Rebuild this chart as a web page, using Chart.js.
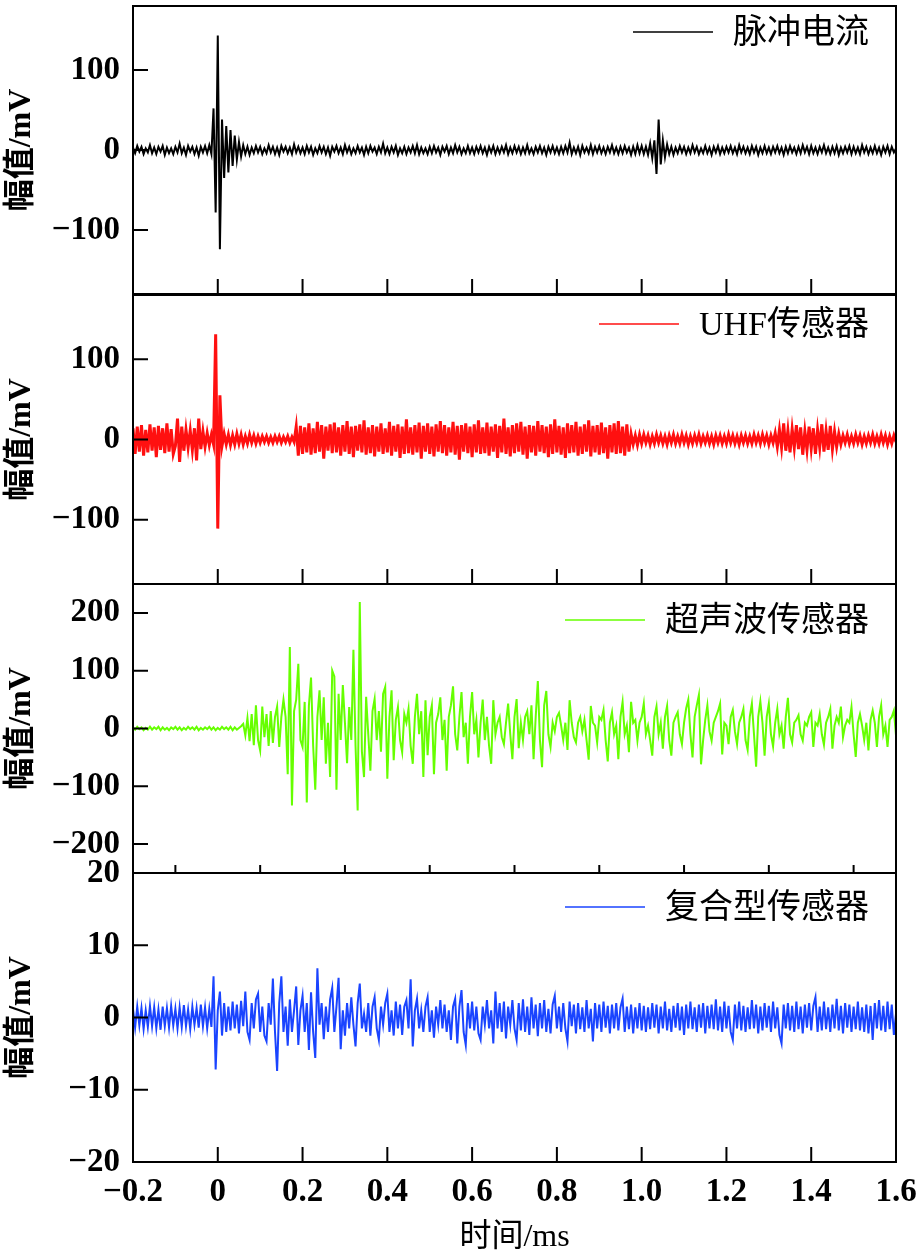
<!DOCTYPE html>
<html><head><meta charset="utf-8">
<script src="https://cdn.jsdelivr.net/npm/chart.js@4.4.1/dist/chart.umd.min.js"></script>
<style>
html,body{margin:0;padding:0;background:#fff;width:919px;height:1254px;overflow:hidden;position:relative}
canvas{position:absolute;left:0;top:-60px}
</style></head><body>
<canvas id="c1" width="919" height="1314"></canvas>
<canvas id="c2" width="919" height="1314"></canvas>
<canvas id="c3" width="919" height="1314"></canvas>
<canvas id="c4" width="919" height="1314"></canvas>
<script>
// ---- data ----
const timeStartMs = -0.2;
const timeStepMs = 0.005;
const xTickValues = [-0.2, 0, 0.2, 0.4, 0.6, 0.8, 1.0, 1.2, 1.4, 1.6];
const xTickLabels = ['\u22120.2', '0', '0.2', '0.4', '0.6', '0.8', '1.0', '1.2', '1.4', '1.6'];
const xMinorTickValues = [-0.1, 0.1, 0.3, 0.5, 0.7, 0.9, 1.1, 1.3, 1.5];
const seriesNames = ['脉冲电流', 'UHF传感器', '超声波传感器', '复合型传感器'];
const yTicksPulse = [-100, 0, 100];
const yTicksUhf = [-100, 0, 100];
const yTicksUltra = [-200, -100, 0, 100, 200];
const yTicksComposite = [-20, -10, 0, 10, 20];

const pulseCurrent = [
3,-4,5,-2,4,-5,2,-3,6,-4,3,-5,4,-2,5,-6,3,-4,2,-5,
4,-3,8,-4,3,-6,5,-2,4,-5,3,-7,4,-3,5,-4,6,-5,52,-78,
143,-124,38,-35,30,-28,25,-20,18,-12,10,-8,6,-5,4,-6,3,-4,5,-3,
4,-5,2,-4,6,-3,4,-5,3,-6,5,-2,4,-4,3,-5,7,-3,4,-4,
3,-5,5,-3,4,-6,2,-4,5,-3,4,-5,3,-7,4,-2,5,-4,3,-5,
6,-3,4,-5,2,-4,5,-3,3,-6,4,-4,5,-2,3,-5,4,-3,8,-4,
3,-5,4,-3,5,-6,2,-4,4,-5,3,-3,5,-4,6,-5,3,-4,2,-5,
4,-4,5,-3,3,-6,4,-2,5,-5,3,-4,6,-3,4,-5,2,-4,5,-4,
3,-5,4,-3,5,-4,3,-6,4,-3,5,-5,3,-4,4,-3,6,-5,3,-4,
5,-3,4,-5,3,-4,6,-4,2,-5,4,-3,5,-4,3,-6,4,-3,5,-4,
3,-5,4,-4,5,-3,9,-5,3,-4,4,-6,5,-3,3,-4,6,-5,4,-3,
5,-4,3,-5,4,-3,6,-4,3,-5,4,-4,5,-3,3,-6,4,-5,6,-4,
5,-5,4,-6,8,-10,12,-30,38,-18,12,-9,7,-5,4,-6,3,-4,5,-3,
4,-5,3,-4,6,-3,4,-5,2,-4,5,-4,3,-6,4,-3,5,-5,3,-4,
4,-3,5,-4,3,-5,6,-3,4,-4,3,-5,5,-3,4,-6,3,-4,5,-4,
3,-5,4,-3,5,-4,3,-6,4,-4,5,-3,3,-5,4,-4,6,-3,4,-5,
5,-4,3,-5,4,-3,6,-4,3,-5,4,-4,5,-6,3,-4,4,-3,5,-5,
4,-4,3,-5,6,-3,4,-5,3,-4,5,-4,3,-6,4,-3,5,-5,4,-3,
2];

const uhfSensor = [
14,-18,16,-15,18,-20,12,-16,19,-14,15,-22,17,-13,14,-17,20,-15,13,-18,
-8,26,-28,16,-14,12,-10,11,-13,14,-26,26,-12,10,-9,8,-7,6,-6,131,
-111,55,-8,7,-6,6,-7,5,-6,7,-5,6,-6,4,-5,6,-4,5,-5,4,
-4,4,-3,4,-4,3,-4,4,-3,4,-4,3,-3,4,-4,3,-3,16,-20,17,
-18,15,-16,20,-19,14,-17,22,-15,18,-24,16,-14,19,-17,21,-16,15,-20,18,
-15,23,-18,16,-22,17,-14,19,-16,24,-19,15,-17,18,-21,16,-15,20,-18,14,
-16,22,-20,17,-15,19,-23,16,-18,25,-17,15,-19,18,-16,21,-24,17,-15,20,
-18,16,-21,19,-15,23,-17,18,-20,15,-16,22,-19,17,-25,18,-15,20,-17,16,
-22,19,-16,24,-18,15,-17,21,-20,16,-15,19,-23,17,-16,26,-18,15,-21,18,
-17,20,-15,22,-19,16,-24,18,-16,17,-20,23,-15,18,-17,16,-22,19,-18,25,
-16,17,-19,15,-23,20,-17,18,-16,22,-20,16,-18,19,-15,24,-21,17,-16,18,
-19,21,-17,15,-24,18,-16,20,-18,23,-17,16,-20,19,-15,7,-6,5,-7,6,
-5,6,-4,5,-6,4,-5,6,-4,5,-5,4,-6,5,-4,6,-5,4,-5,6,
-4,5,-6,4,-5,5,-4,6,-5,4,-4,5,-5,4,-6,5,-4,5,-5,4,
-5,6,-4,5,-5,4,-6,5,-4,5,-5,4,-5,6,-4,5,-5,6,-4,5,
-6,5,-4,8,-9,12,-10,20,-14,11,-16,13,-10,18,-12,15,-19,10,-13,16,
-11,14,-18,12,-10,19,-15,11,-13,17,-12,10,-9,7,-6,5,-4,6,-5,4,
-5,6,-4,5,-6,4,-5,5,-4,6,-5,4,-5,6,-4,5,-6,4,-5,5,
-3];

const ultrasonicSensor = [
2,-2,3,-1,2,-3,1,-2,3,-2,2,-1,3,-3,2,-2,1,-3,2,-1,
3,-2,2,-3,1,-2,3,-1,2,-2,3,-3,1,-2,2,-1,3,-2,2,-3,
1,-2,3,-1,2,-2,3,-3,2,-2,1,4,8,-12,18,-22,25,-29,40,-20,
-38,38,-15,25,-30,30,-25,20,38,-32,20,50,20,-79,141,-133,30,50,112,-20,
-32,46,-128,40,88,-30,-106,20,66,-20,54,-61,10,-84,100,90,-106,60,-20,75,
10,-60,37,-20,136,-30,-142,219,-40,-84,55,-10,-73,30,51,-20,30,-40,60,72,
-87,20,66,-55,15,37,-20,-41,25,10,34,-30,-61,20,60,-10,30,-84,49,-46,
20,40,-79,10,25,54,-20,15,-73,20,40,73,-10,-38,20,63,-15,10,-61,20,
63,-10,15,-50,10,50,-20,20,-30,-61,49,-10,10,20,-15,-27,10,43,-10,-53,
20,51,-34,10,-20,20,30,-10,40,-53,20,82,-20,-67,40,65,-10,-32,10,-5,
20,27,5,-20,10,-37,49,10,-15,-24,10,20,-5,15,-20,-54,39,10,5,-24,
20,15,32,-20,-57,10,28,-10,5,-53,20,46,-10,5,-41,46,10,15,-21,10,
20,43,-10,5,-20,-47,20,38,-10,10,-35,20,39,-20,-47,10,20,28,-10,-27,
10,35,50,-10,-50,20,40,58,-62,-20,15,40,-5,-21,10,20,30,43,-45,10,
5,-27,20,32,-5,-27,10,20,34,-20,-37,20,43,-10,-66,20,47,10,-47,20,
43,-10,-31,10,34,-10,5,-35,20,53,-10,-24,10,15,23,-10,-21,10,5,20,
28,-32,10,5,25,-10,-28,10,20,34,-35,5,20,10,38,-15,5,15,10,37,
-10,-49,10,25,5,-20,10,-38,15,31,10,-32,20,40,-10,5,-32,15,20,31,
-12];

const compositeSensor = [
1.2,-1.4,1.5,-1.1,1.3,-1.6,1.0,-1.3,1.6,-1.2,1.4,-1.5,1.1,-1.7,1.5,-1.2,1.3,-1.4,1.6,-1.1,
1.2,-1.5,1.4,-1.3,1.7,-1.2,1.1,-1.6,1.5,-1.0,1.3,-1.4,1.8,-1.2,1.4,-1.5,1.2,-1.3,5.7,-7.2,
1.0,3.6,-2.5,2.0,-2.0,1.5,-1.8,2.2,-1.5,1.8,-2.2,2.3,-1.2,3.6,-2.0,-3.1,2.0,-1.5,2.5,3.3,
-2.0,1.5,-2.5,-3.3,2.0,-1.0,5.4,-2.0,-7.4,2.0,5.7,-2.0,1.5,-3.9,2.5,-2.0,1.0,4.3,-3.8,1.0,
3.0,-2.0,2.0,-4.5,3.5,-2.0,-5.6,6.8,-1.0,2.0,-3.0,1.5,-2.0,2.5,4.1,-2.0,1.5,5.5,-4.4,1.0,
-2.5,2.0,-1.5,2.8,-1.0,-4.0,2.0,4.7,-1.5,0.5,-2.0,2.0,-2.5,1.5,2.8,-1.5,-3.1,1.5,-1.0,2.0,
3.3,-2.0,1.0,-2.5,2.2,-1.5,1.8,-2.4,1.5,2.4,-1.5,5.3,-4.0,1.0,2.6,-1.5,1.0,-2.0,1.5,2.8,
-2.0,1.0,-2.8,1.5,-1.0,2.4,-1.5,1.8,-2.0,1.0,-3.1,1.5,2.6,-3.6,1.5,3.8,-2.0,-3.8,2.0,-1.5,
2.2,-1.8,1.5,-2.2,-3.1,1.5,-1.0,2.4,-1.5,1.0,-3.6,3.6,-1.5,2.0,-2.0,2.2,-2.9,1.5,-1.0,2.4,
-1.5,-3.1,2.0,-1.8,2.5,-2.0,1.5,-2.4,2.8,-1.5,1.8,-2.6,2.0,-1.5,2.4,-2.0,1.2,-2.2,1.8,3.0,
-1.5,1.5,-2.0,2.0,-1.5,-3.3,2.2,-1.2,1.8,-2.2,2.0,-1.6,1.4,-2.0,2.4,-1.5,1.2,-3.3,2.0,-1.5,
1.8,-2.0,2.2,-1.4,1.6,-2.2,1.8,-1.5,2.0,-1.8,1.4,2.6,-2.0,1.5,-1.6,1.8,-2.2,1.4,-1.5,2.0,
-1.8,1.6,-2.0,1.4,-1.6,2.0,-1.4,1.8,-2.2,1.5,-1.5,2.2,-1.8,1.2,-2.0,1.6,-1.4,2.0,-1.8,1.5,
-2.4,1.8,-1.5,2.2,-1.6,1.4,-2.0,1.8,-1.4,2.0,-2.2,1.6,-1.5,1.8,-1.6,2.5,-1.8,1.5,-2.0,2.2,
-1.5,1.6,-2.0,-3.1,1.8,-1.5,2.2,-1.8,1.6,-2.0,1.4,-1.6,2.4,-1.5,1.8,-2.2,1.5,-1.8,2.0,-1.4,
1.6,-2.0,2.2,-1.5,1.4,-2.4,-3.6,1.8,-1.5,2.0,-1.8,1.6,-2.0,2.2,-1.6,1.5,-2.2,1.8,-1.4,2.0,
-1.8,1.6,2.8,-2.0,1.5,-1.8,2.2,-1.6,1.4,-2.0,1.8,-1.5,2.6,-1.8,1.6,-2.2,2.0,-1.4,1.8,-2.0,
1.5,-1.6,2.2,-1.8,1.4,-2.0,1.8,-2.2,1.6,-3.1,2.0,-1.5,2.4,-1.8,1.6,-2.0,2.2,-1.6,1.8,-2.4,
0.5];

// ---- rendering ----
const LATIN_CJK = '"Liberation Serif", "Noto Sans CJK SC", serif';
Chart.defaults.font.family = LATIN_CJK;
Chart.defaults.color = '#000';

const OFF = 60;                 // canvases start 60px above the page
const W = 919, H = 1254 + OFF;
const PLOT_LEFT = 133, PLOT_RIGHT = 896;

const framePlugin = {
  id: 'frame',
  afterDraw(chart, args, o) {
    const { ctx, chartArea: a, scales } = chart;
    ctx.save();
    ctx.strokeStyle = '#000';
    ctx.lineWidth = 2;
    ctx.strokeRect(a.left, a.top, a.right - a.left, a.bottom - a.top);
    ctx.beginPath();
    o.yTicks.forEach(v => {
      const y = scales.y.getPixelForValue(v);
      ctx.moveTo(a.left, y); ctx.lineTo(a.left + 15, y);
    });
    o.xTicks.forEach(v => {
      const x = scales.x.getPixelForValue(v);
      ctx.moveTo(x, a.bottom); ctx.lineTo(x, a.bottom - o.xTickLen);
    });
    ctx.stroke();
    // legend
    ctx.font = '34px ' + LATIN_CJK;
    ctx.textAlign = 'right';
    ctx.textBaseline = 'middle';
    ctx.fillStyle = '#000';
    const tx = a.right - 27, ty = a.top + o.legendDy;
    ctx.fillText(o.label, tx, ty + 2);
    const w = ctx.measureText(o.label).width;
    ctx.strokeStyle = o.color;
    ctx.lineWidth = 1.5;
    ctx.beginPath();
    ctx.moveTo(tx - w - 20 - 80, ty);
    ctx.lineTo(tx - w - 20, ty);
    ctx.stroke();
    ctx.restore();
  }
};

function fmtTick(v) { return String(v).replace('-', '\u2212'); }

function makeChart(id, values, color, lineW, label, yRange, yTicks, pageTop, pageBottom, showX, xTicks, xTickLen, legendDy) {
  const top = pageTop + OFF, bottom = pageBottom + OFF;
  const pts = values.map((v, i) => ({ x: +(timeStartMs + i * timeStepMs).toFixed(4), y: v }));
  return new Chart(document.getElementById(id), {
    type: 'line',
    data: { datasets: [{ data: pts, borderColor: color, borderWidth: lineW, pointRadius: 0, tension: 0, fill: false }] },
    options: {
      responsive: false, animation: false, devicePixelRatio: 1, parsing: false, normalized: true,
      layout: { padding: { left: 0, right: W - PLOT_RIGHT, top: top, bottom: showX ? 0 : H - bottom } },
      plugins: { legend: { display: false }, tooltip: { enabled: false },
        frame: { yTicks, xTicks, xTickLen, label, color, legendDy } },
      scales: {
        x: {
          type: 'linear', min: -0.2, max: 1.6, display: showX,
          grid: { display: false, drawTicks: true, tickLength: 11 }, border: { display: false },
          afterBuildTicks: s => { s.ticks = xTickValues.map(v => ({ value: v })); },
          afterFit: s => { s.height = showX ? H - bottom : 0; },
          ticks: { padding: 0, autoSkip: false, maxRotation: 0, minRotation: 0, color: '#000',
            font: { size: 33, weight: 'bold' }, callback: (v, i) => xTickLabels[i] },
          title: { display: true, text: '时间/ms', color: '#000', font: { size: 32, lineHeight: 1 }, padding: 0 }
        },
        y: {
          min: yRange[0], max: yRange[1],
          grid: { display: false, drawTicks: false }, border: { display: false },
          afterBuildTicks: s => { s.ticks = yTicks.map(v => ({ value: v })); },
          afterFit: s => { s.width = PLOT_LEFT; },
          ticks: { padding: 13, color: '#000', font: { size: 33, weight: 'bold' }, callback: v => fmtTick(v) },
          title: { display: true, text: '幅值/mV', color: '#000', font: { size: 32, lineHeight: 1, weight: 'bold' }, padding: { top: 6, bottom: 0 } }
        }
      }
    },
    plugins: [framePlugin]
  });
}

makeChart('c1', pulseCurrent, '#000000', 2, seriesNames[0], [-180, 180], yTicksPulse, 6, 294, false, xTickValues, 15, 26);
makeChart('c2', uhfSensor, '#ff1010', 3, seriesNames[1], [-180, 180], yTicksUhf, 295, 584, false, xTickValues, 15, 29);
makeChart('c3', ultrasonicSensor, '#66ff00', 2, seriesNames[2], [-250, 250], yTicksUltra, 584, 873, false, xMinorTickValues, 8, 36);
makeChart('c4', compositeSensor, '#1a44ff', 2, seriesNames[3], [-20, 20], yTicksComposite, 873, 1162, true, xTickValues, 15, 34);
</script>
</body></html>
